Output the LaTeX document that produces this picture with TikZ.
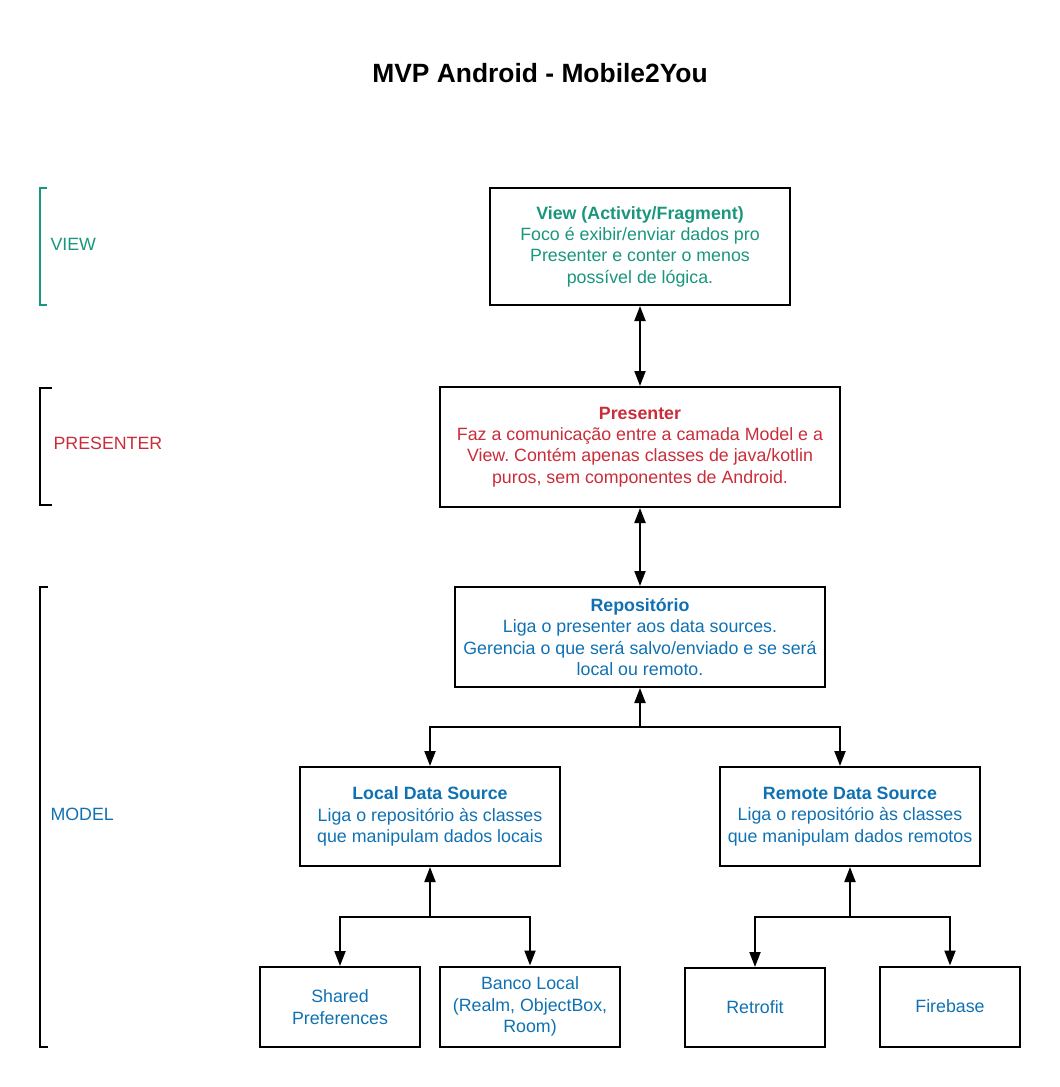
\documentclass[tikz,border=0pt]{standalone}
\usepackage{fontspec}
\setmainfont{Liberation Sans}
\usetikzlibrary{arrows.meta,positioning}
\definecolor{viewgreen}{RGB}{25,150,125}
\definecolor{presred}{RGB}{201,45,57}
\definecolor{modelblue}{RGB}{16,113,178}
\frenchspacing
\tikzset{
	caixa/.style={draw, line width=2pt, align=center, inner sep=0pt, font=\fontsize{17.8}{21.3}\selectfont},
	rotulo/.style={anchor=west, font=\fontsize{17.8}{21}\selectfont},
	seta/.style={line width=2pt, -{Triangle[length=15pt,width=11pt]}},
	setadupla/.style={line width=2pt, {Triangle[length=15pt,width=11pt]}-{Triangle[length=15pt,width=11pt]}},
	colchete/.style={line width=2pt}
}

\begin{document}
\begin{tikzpicture}[x=1pt, y=-1pt]
		\useasboundingbox (0,0) rectangle (1060,1087);
		\node[font=\fontsize{26.4}{30}\selectfont\bfseries] (titulo) at (540,73) {MVP Android - Mobile2You};
		% camadas
		\draw[colchete, viewgreen] (47,188) -- (40,188) -- (40,305) -- (47,305);
		\draw[colchete] (52,388) -- (40,388) -- (40,505) -- (52,505);
		\draw[colchete] (48,587) -- (40,587) -- (40,1047) -- (48,1047);
		\node[rotulo, text=viewgreen] (lview) at (47,244) {VIEW};
		\node[rotulo, text=presred] (lpres) at (50,443) {PRESENTER};
		\node[rotulo, text=modelblue] (lmodel) at (47,814) {MODEL};
		% caixas
		\node[caixa, text=viewgreen, minimum width=300pt, minimum height=117pt] (view) at (640,246.5)
			{\textbf{View (Activity/Fragment)}\\Foco é exibir/enviar dados pro\\Presenter e conter o menos\\possível de lógica.};
		\node[caixa, text=presred, minimum width=400pt, minimum height=120pt] (pres) at (640,447)
			{\textbf{Presenter}\\Faz a comunicação entre a camada Model e a\\View. Contém apenas classes de java/kotlin\\puros, sem componentes de Android.};
		\node[caixa, text=modelblue, minimum width=370pt, minimum height=100pt] (repo) at (640,637)
			{\textbf{Repositório}\\Liga o presenter aos data sources.\\Gerencia o que será salvo/enviado e se será\\local ou remoto.};
		\node[caixa, text=modelblue, minimum width=260pt, minimum height=99pt] (local) at (430,816.5)
			{\textbf{Local Data Source}\\Liga o repositório às classes\\que manipulam dados locais};
		\node[caixa, text=modelblue, minimum width=260pt, minimum height=99pt] (remote) at (850,816.5)
			{\textbf{Remote Data Source}\\Liga o repositório às classes\\que manipulam dados remotos};
		\node[caixa, text=modelblue, minimum width=160pt, minimum height=80pt] (shared) at (340,1007) {Shared\\Preferences};
		\node[caixa, text=modelblue, minimum width=180pt, minimum height=80pt] (banco) at (530,1006.5) {Banco Local\\(Realm, ObjectBox,\\Room)};
		\node[caixa, text=modelblue, minimum width=140pt, minimum height=79pt] (retro) at (755,1007.5) {Retrofit};
		\node[caixa, text=modelblue, minimum width=140pt, minimum height=80pt] (fire) at (950,1006.5) {Firebase};
		% ligacoes
		\coordinate (jrepo) at (640,727);
		\coordinate (jlocal) at (430,917);
		\coordinate (jremote) at (850,917);
		\draw[setadupla] (view) -- (pres);
		\draw[setadupla] (pres) -- (repo);
		\draw[seta] (jrepo) -- (repo);
		\draw[seta] (jrepo) -| (local);
		\draw[seta] (jrepo) -| ([xshift=-10pt]remote.north);
		\draw[seta] (jlocal) -- (local);
		\draw[seta] (jlocal) -| (shared);
		\draw[seta] (jlocal) -| (banco);
		\draw[seta] (jremote) -- (remote);
		\draw[seta] (jremote) -| (retro);
		\draw[seta] (jremote) -| (fire);
	\end{tikzpicture}
\end{document}
